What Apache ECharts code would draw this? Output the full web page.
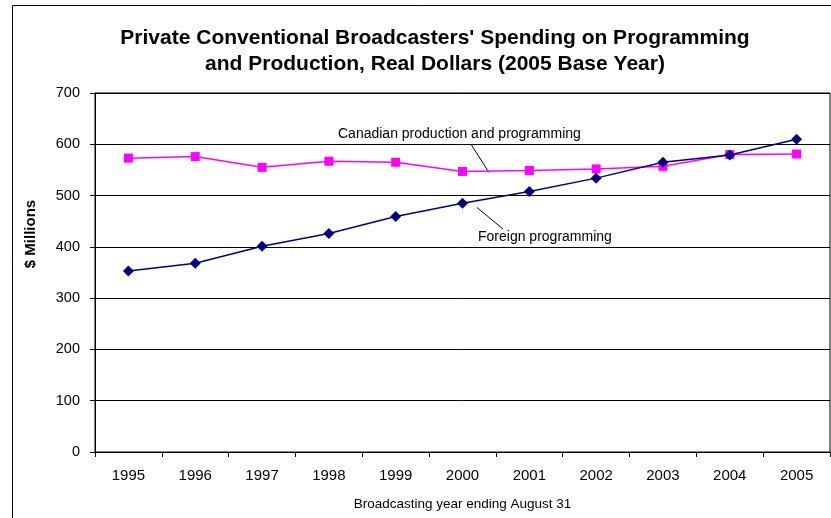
<!DOCTYPE html>
<html>
<head>
<meta charset="utf-8">
<script src="https://cdn.jsdelivr.net/npm/echarts@6/dist/echarts.min.js"></script>
<style>html,body{margin:0;padding:0;background:#fff;}#c{width:831px;height:518px;}</style>
</head>
<body>
<div id="c"></div>
<script>
const years = ['1995','1996','1997','1998','1999','2000','2001','2002','2003','2004','2005'];
const canadian = [573, 576, 555, 567, 565, 547, 549, 552, 557, 580, 581];
const foreign = [353, 368, 401, 426, 459, 485, 508, 534, 565, 579, 610];
const yTicks = {min: 0, max: 700, interval: 100};

const chart = echarts.init(document.getElementById('c'));
const F = '"Liberation Sans", Arial, sans-serif';
chart.setOption({
  animation: false,
  backgroundColor: '#fff',
  title: {
    text: "Private Conventional Broadcasters' Spending on Programming\nand Production, Real Dollars (2005 Base Year)",
    left: 430, top: 20, textAlign: 'center',
    textStyle: {fontFamily: F, fontWeight: 'bold', fontSize: 21, lineHeight: 26, color: '#000'}
  },
  grid: {left: 95, right: 1, top: 93, bottom: 66, show: true, borderColor: '#000', borderWidth: 1, backgroundColor: 'transparent'},
  xAxis: {
    type: 'category', data: years, boundaryGap: true,
    axisLine: {lineStyle: {color: '#000', width: 1}},
    axisTick: {show: true, alignWithLabel: false, length: 5, lineStyle: {color: '#000'}},
    axisLabel: {fontFamily: F, fontSize: 15, color: '#000', margin: 16},
    name: 'Broadcasting year ending August 31', nameLocation: 'middle', nameGap: 45,
    nameTextStyle: {fontFamily: F, fontSize: 13.5, color: '#000'}
  },
  yAxis: {
    type: 'value', min: yTicks.min, max: yTicks.max, interval: yTicks.interval,
    axisLine: {show: true, lineStyle: {color: '#000', width: 1}},
    axisTick: {show: true, length: 5, lineStyle: {color: '#000'}},
    axisLabel: {fontFamily: F, fontSize: 14.5, color: '#000', margin: 15},
    splitLine: {show: true, lineStyle: {color: '#000', width: 1}}
  },
  series: [
    {
      name: 'Canadian production and programming', type: 'line', data: canadian,
      symbol: 'rect', symbolSize: 9,
      lineStyle: {color: '#FF00FF', width: 1.5},
      itemStyle: {color: '#FF00FF'}
    },
    {
      name: 'Foreign programming', type: 'line', data: foreign,
      symbol: 'diamond', symbolSize: 11,
      lineStyle: {color: '#000080', width: 1.5},
      itemStyle: {color: '#000080'}
    }
  ],
  graphic: [
    {type: 'rect', shape: {x: 12.5, y: 5.5, width: 840, height: 540}, style: {fill: 'none', stroke: '#000', lineWidth: 1}, silent: true},
    {type: 'text', x: 31, y: 234, rotation: Math.PI / 2, style: {text: '$ Millions', font: 'bold 15px "Liberation Sans", Arial, sans-serif', fill: '#000', align: 'center', verticalAlign: 'middle'}},
    {type: 'text', x: 338, y: 134, style: {text: 'Canadian production and programming', font: '14px "Liberation Sans", Arial, sans-serif', fill: '#000', verticalAlign: 'middle'}},
    {type: 'line', shape: {x1: 471.5, y1: 145, x2: 489, y2: 172.5}, style: {stroke: '#000', lineWidth: 1}},
    {type: 'text', x: 478, y: 237.5, style: {text: 'Foreign programming', font: '14px "Liberation Sans", Arial, sans-serif', fill: '#000', verticalAlign: 'middle'}},
    {type: 'line', shape: {x1: 477, y1: 207.5, x2: 503, y2: 229}, style: {stroke: '#000', lineWidth: 1}}
  ]
});
</script>
</body>
</html>
